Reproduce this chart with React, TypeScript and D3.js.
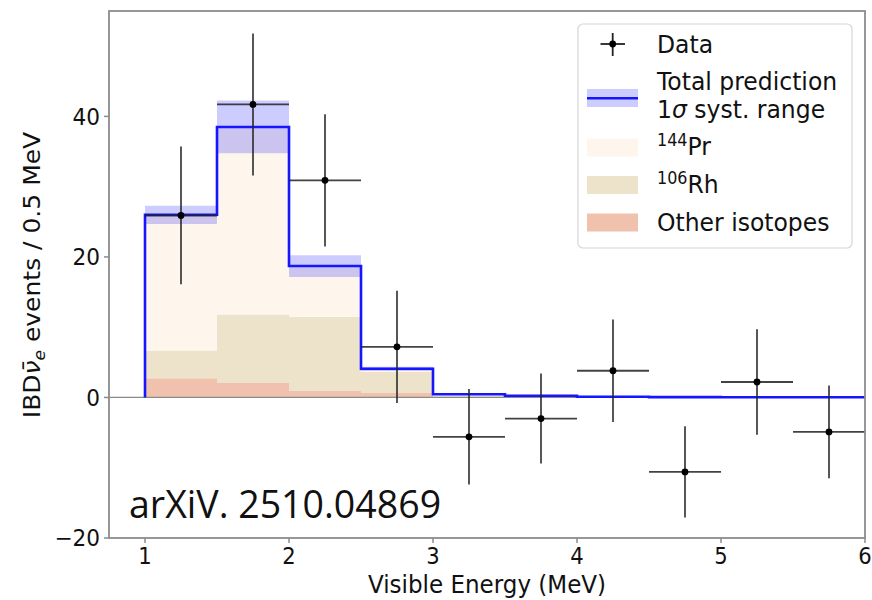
import React from "react";
import * as d3 from "d3";

// ---------- data ----------
const binStarts = [1, 1.5, 2, 2.5, 3, 3.5, 4, 4.5, 5, 5.5];
const binEnd = 6;
const otherIsotopes = [2.75, 2.05, 1.0, 0.65, 0.1, 0.05, 0.02, 0.01, 0.0, 0.0];
const rh106 = [3.95, 9.75, 10.5, 3.0, 0.15, 0.12, 0.06, 0.03, 0.02, 0.02];
const pr144 = [19.3, 26.7, 7.2, 0.43, 0.2, 0.07, 0.02, 0.01, 0.01, 0.01];
const systErr = [1.3, 3.75, 1.55, 0.3, 0.05, 0.03, 0.02, 0.01, 0.01, 0.01];

const dataX = [1.25, 1.75, 2.25, 2.75, 3.25, 3.75, 4.25, 4.75, 5.25, 5.75];
const dataY = [25.9, 41.7, 30.9, 7.2, -5.6, -3.0, 3.8, -10.6, 2.2, -4.9];
const dataErr = [9.8, 10.1, 9.4, 8.0, 6.8, 6.4, 7.3, 6.5, 7.5, 6.6];
const dataXErr = 0.25;

const xTicks = [1, 2, 3, 4, 5, 6];
const yTicks = [-20, 0, 20, 40];

const xLabel = "Visible Energy (MeV)";
const watermark = "arXiV. 2510.04869";

// ---------- layout ----------
const W = 872;
const H = 600;
const left = 109;
const right = 865;
const top = 11;
const bottom = 538;
const SX = 0.94; // horizontal squeeze of the reference text
const FONT = "DejaVu Sans, sans-serif";

const x = d3.scaleLinear().domain([0.75, 6]).range([left, right]);
const y = d3.scaleLinear().domain([-20, 55]).range([bottom, top]);

const colPr = "#fef6ec";
const colRh = "#ede3cb";
const colOther = "#f0c2ad";
const colBlue = "#1515ff";

type Row = { x: number; other: number; rh: number; pr: number; err: number };
const rows: Row[] = binStarts.map((b, i) => ({
  x: b,
  other: otherIsotopes[i],
  rh: rh106[i],
  pr: pr144[i],
  err: systErr[i],
}));
const last = rows[rows.length - 1];
const stepRows: Row[] = [...rows, { ...last, x: binEnd }];

const stack = d3.stack<Row>().keys(["other", "rh", "pr"]);
const series = stack(stepRows);
const fills = [colOther, colRh, colPr];

const total = (r: Row) => r.other + r.rh + r.pr;

const stepArea = d3
  .area<d3.SeriesPoint<Row>>()
  .x((d) => x(d.data.x))
  .y0((d) => y(d[0]))
  .y1((d) => y(d[1]))
  .curve(d3.curveStepAfter);

const bandArea = d3
  .area<Row>()
  .x((d) => x(d.x))
  .y0((d) => y(total(d) - d.err))
  .y1((d) => y(total(d) + d.err))
  .curve(d3.curveStepAfter);

const linePts: [number, number][] = [
  [binStarts[0], 0],
  ...stepRows.map((r) => [r.x, total(r)] as [number, number]),
];
const stepLine = d3
  .line<[number, number]>()
  .x((d) => x(d[0]))
  .y((d) => y(d[1]))
  .curve(d3.curveStepAfter);

function T(props: {
  x: number;
  y: number;
  size: number;
  anchor?: "start" | "middle" | "end";
  children: React.ReactNode;
  family?: string;
  sx?: number;
}) {
  const sx = props.sx ?? SX;
  return (
    <text
      transform={`scale(${sx},1)`}
      x={props.x / sx}
      y={props.y}
      fontSize={props.size}
      fontFamily={props.family ?? FONT}
      textAnchor={props.anchor ?? "start"}
      fill="#111"
    >
      {props.children}
    </text>
  );
}

export default function App() {
  const legendX = 657;
  const patchX0 = 587;
  const patchX1 = 638;
  return (
    <svg
      width={W}
      height={H}
      style={{ position: "absolute", left: 0, top: 0, background: "#fff" }}
    >
      <rect x={0} y={0} width={W} height={H} fill="#fff" />
      {/* stacked components */}
      {series.map((s, i) => (
        <path key={i} d={stepArea(s) ?? ""} fill={fills[i]} stroke="none" />
      ))}
      {/* syst band */}
      <path d={bandArea(stepRows) ?? ""} fill="#0000ff" fillOpacity={0.2} />
      {/* zero line */}
      <line x1={left} x2={right} y1={y(0)} y2={y(0)} stroke="#8a8a8a" strokeWidth={1.2} />
      {/* total prediction */}
      <path d={stepLine(linePts) ?? ""} fill="none" stroke={colBlue} strokeWidth={2.6} />
      {/* data */}
      {dataX.map((dx, i) => (
        <g key={i} stroke="#222" strokeWidth={1.8} strokeOpacity={0.85}>
          <line x1={x(dx - dataXErr)} x2={x(dx + dataXErr)} y1={y(dataY[i])} y2={y(dataY[i])} />
          <line x1={x(dx)} x2={x(dx)} y1={y(dataY[i] - dataErr[i])} y2={y(dataY[i] + dataErr[i])} />
          <circle cx={x(dx)} cy={y(dataY[i])} r={3.4} fill="#000" stroke="none" />
        </g>
      ))}
      {/* frame */}
      <rect
        x={left}
        y={top}
        width={right - left}
        height={bottom - top}
        fill="none"
        stroke="#8c8c8c"
        strokeWidth={1.8}
      />
      {/* y ticks */}
      {yTicks.map((t) => (
        <g key={t}>
          <line x1={left - 5} x2={left} y1={y(t)} y2={y(t)} stroke="#8c8c8c" strokeWidth={1.5} />
          <T x={100} y={y(t) + 8.3} size={23} anchor="end">
            {t < 0 ? "\u2212" + Math.abs(t) : String(t)}
          </T>
        </g>
      ))}
      {/* x ticks */}
      {xTicks.map((t) => (
        <g key={t}>
          <line x1={x(t)} x2={x(t)} y1={bottom} y2={bottom + 5} stroke="#8c8c8c" strokeWidth={1.5} />
          <T x={x(t)} y={564} size={22.5} anchor="middle">
            {String(t)}
          </T>
        </g>
      ))}
      {/* x label */}
      <T x={(left + right) / 2} y={593} size={24.5} anchor="middle">
        {xLabel}
      </T>
      {/* y label */}
      <g transform={`translate(40,${275}) scale(${SX},1) rotate(-90)`}>
        <text x={0} y={0} fontSize={25} fontFamily={FONT} textAnchor="middle" fill="#111">
          IBD
          <tspan fontStyle="italic">{"\u03BD\u0304"}</tspan>
          <tspan fontStyle="italic" fontSize={17} dy={5}>
            e
          </tspan>
          <tspan dy={-5}>{" events / 0.5 MeV"}</tspan>
        </text>
      </g>
      {/* watermark */}
      <T x={129} y={518} size={37.5} family="Open Sans, sans-serif" sx={1}>
        {watermark}
      </T>
      {/* legend */}
      <rect x={578} y={24} width={274} height={224} rx={5} fill="#fff" fillOpacity={0.85} stroke="#d6d6d6" strokeWidth={1.2} />
      <g stroke="#222" strokeWidth={1.8}>
        <line x1={600.5} x2={625} y1={44} y2={44} />
        <line x1={612.7} x2={612.7} y1={33} y2={56} />
        <circle cx={612.7} cy={44} r={3.4} fill="#000" stroke="none" />
      </g>
      <T x={legendX} y={53} size={25}>Data</T>
      <rect x={patchX0} y={89} width={patchX1 - patchX0} height={18} fill="#0000ff" fillOpacity={0.2} />
      <line x1={patchX0} x2={patchX1} y1={98.3} y2={98.3} stroke={colBlue} strokeWidth={2.6} />
      <T x={legendX} y={90} size={25}>Total prediction</T>
      <T x={legendX} y={118.5} size={25}>
        1<tspan fontStyle="italic">σ</tspan> syst. range
      </T>
      <rect x={patchX0} y={138.5} width={patchX1 - patchX0} height={18} fill={colPr} />
      <T x={legendX} y={155.5} size={25}>
        <tspan fontSize={17} dy={-9}>144</tspan>
        <tspan dy={9}>Pr</tspan>
      </T>
      <rect x={patchX0} y={176} width={patchX1 - patchX0} height={18} fill={colRh} />
      <T x={legendX} y={193.5} size={25}>
        <tspan fontSize={17} dy={-9}>106</tspan>
        <tspan dy={9}>Rh</tspan>
      </T>
      <rect x={patchX0} y={213.5} width={patchX1 - patchX0} height={18} fill={colOther} />
      <T x={legendX} y={231.5} size={25}>Other isotopes</T>
    </svg>
  );
}
